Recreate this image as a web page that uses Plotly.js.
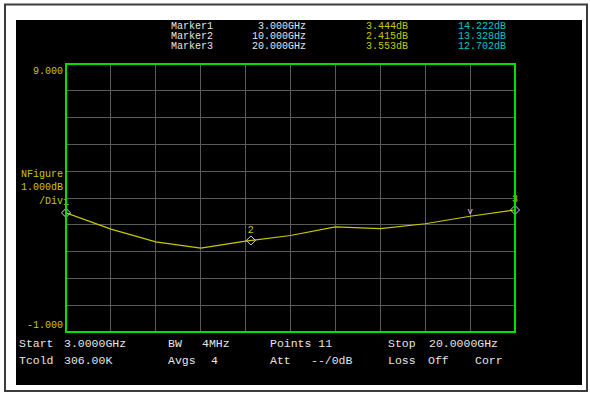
<!DOCTYPE html>
<html><head><meta charset="utf-8">
<script src="https://cdn.plot.ly/plotly-3.0.1.min.js"></script>
<style>html,body{margin:0;padding:0;background:#fff;}#chart{width:590px;height:394px;}</style>
</head><body><div id="chart"></div>
<script>
// ---- data ----
const freqsGHz = [3.0, 4.7, 6.4, 8.1, 9.8, 11.5, 13.2, 14.9, 16.6, 18.3, 20.0];
const noiseFigureDb = [3.444, 2.84, 2.36, 2.13, 2.39, 2.60, 2.92, 2.86, 3.04, 3.32, 3.553];
const markerNames = ['Marker1', 'Marker2', 'Marker3'];
const markerLabels = ['1', '2', '3'];
const markerFreqs = [3.0, 10.0, 20.0];
const markerFreqText = ['3.000GHz', '10.000GHz', '20.000GHz'];
const markerNfText = ['3.444dB', '2.415dB', '3.553dB'];
const markerNf = [3.444, 2.415, 3.553];
const markerGainText = ['14.222dB', '13.328dB', '12.702dB'];
const peakFreq = [18.3];
const peakVal = [3.32];
const yTopLabel = '9.000';
const yBottomLabel = '-1.000';
const scaleLabels = ['NFigure', '1.000dB', '/Div'];
const statusRow1 = [['Start', 18], ['3.0000GHz', 63], ['BW', 167], ['4MHz', 201], ['Points 11', 269], ['Stop', 387], ['20.0000GHz', 428]];
const statusRow2 = [['Tcold', 18], ['306.00K', 63], ['Avgs', 167], ['4', 210], ['Att', 269], ['--/0dB', 310], ['Loss', 387], ['Off', 427], ['Corr', 474]];

// ---- layout geometry ----
const W = 590, H = 394, L = 66, R = 515, T = 64, B = 332;
const px = x => (x - L) / (R - L);
const py = y => (B - y) / (B - T);
const FONT = 'Liberation Mono, Courier New, monospace';
const YEL = '#c8c800', CYAN = '#00c8c8', WHITE = '#e6e6e6';

function ann(text, x, y, color, size, xanchor) {
  return {xref: 'paper', yref: 'paper', x: px(x), y: py(y), text: text, showarrow: false,
    xanchor: xanchor || 'left', yanchor: 'middle', font: {family: FONT, size: size, color: color}, borderpad: 0};
}

const annotations = [];
const rowY = [26.5, 36.5, 46.5];
for (let i = 0; i < markerNames.length; i++) {
  annotations.push(ann(markerNames[i], 170, rowY[i], WHITE, 10));
  annotations.push(ann(markerFreqText[i], 307, rowY[i], WHITE, 10, 'right'));
  annotations.push(ann(markerNfText[i], 365, rowY[i], YEL, 10));
  annotations.push(ann(markerGainText[i], 457, rowY[i], CYAN, 10));
}
annotations.push(ann(yTopLabel, 64, 71, YEL, 10, 'right'));
annotations.push(ann(yBottomLabel, 64, 325, YEL, 10, 'right'));
annotations.push(ann(scaleLabels[0], 64, 174, YEL, 10, 'right'));
annotations.push(ann(scaleLabels[1], 64, 187, YEL, 10, 'right'));
annotations.push(ann(scaleLabels[2], 64, 201, YEL, 10, 'right'));
statusRow1.forEach(([t, x]) => annotations.push(ann(t, x, 343, WHITE, 11.5)));
statusRow2.forEach(([t, x]) => annotations.push(ann(t, x, 360, WHITE, 11.5)));

const shapes = [
  {type: 'rect', xref: 'paper', yref: 'paper', x0: px(16), x1: px(582), y0: py(20), y1: py(385),
    fillcolor: '#000', line: {width: 0}, layer: 'below'},
  {type: 'rect', xref: 'paper', yref: 'paper', x0: px(5), x1: px(587), y0: py(4.5), y1: py(391),
    fillcolor: 'rgba(0,0,0,0)', line: {color: '#3c3c3c', width: 2}, layer: 'below'},
  {type: 'rect', xref: 'paper', yref: 'paper', x0: 0, x1: 1, y0: 0, y1: 1,
    line: {color: '#00e000', width: 2}, layer: 'above'}
];

const traces = [
  {x: freqsGHz, y: noiseFigureDb, mode: 'lines', line: {color: YEL, width: 1.2}, hoverinfo: 'skip', cliponaxis: false},
  {x: markerFreqs, y: markerNf, mode: 'markers+text', text: markerLabels, textposition: 'top center',
    textfont: {family: FONT, size: 10, color: YEL},
    marker: {symbol: 'diamond-open', size: 7, color: '#d8d8d8', line: {width: 1}}, cliponaxis: false, hoverinfo: 'skip'},
  {x: peakFreq, y: peakVal, mode: 'text', text: ['v'], textposition: 'top center',
    textfont: {family: FONT, size: 9, color: '#cfcfcf'}, cliponaxis: false, hoverinfo: 'skip'}
];

const layout = {
  width: W, height: H, margin: {l: L, r: W - R, t: T, b: H - B, pad: 0},
  paper_bgcolor: '#ffffff', plot_bgcolor: '#000000', showlegend: false,
  xaxis: {range: [3, 20], tick0: 3, dtick: 1.7, showgrid: true, gridcolor: '#5a5a5a', gridwidth: 1,
    zeroline: false, showticklabels: false, ticks: '', showline: false, fixedrange: true},
  yaxis: {range: [-1, 9], tick0: -1, dtick: 1, showgrid: true, gridcolor: '#5a5a5a', gridwidth: 1,
    zeroline: false, showticklabels: false, ticks: '', showline: false, fixedrange: true},
  shapes: shapes, annotations: annotations
};
Plotly.newPlot('chart', traces, layout, {staticPlot: true, displayModeBar: false});
</script></body></html>
